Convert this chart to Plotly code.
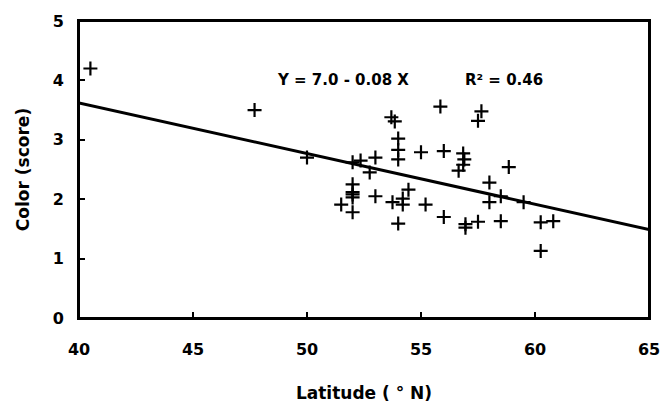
import plotly.graph_objects as go

# Data
latitude = [40.5, 47.7, 50.0, 51.5, 52.0, 52.0, 52.0, 52.0, 52.0, 52.0, 52.35, 52.75,
            53.0, 53.0, 53.7, 53.85, 53.75, 54.0, 54.0, 54.0, 54.0, 54.2, 54.2, 54.45,
            55.0, 55.2, 55.85, 56.0, 56.0, 56.65, 56.85, 56.9, 56.85, 56.95, 56.95,
            57.5, 57.65, 57.5, 58.0, 58.0, 58.5, 58.5, 58.85, 59.5, 60.25, 60.25, 60.8]
color_score = [4.2, 3.5, 2.7, 1.91, 2.62, 2.25, 2.12, 2.08, 2.03, 1.78, 2.65, 2.45,
               2.7, 2.05, 3.38, 3.31, 1.95, 3.02, 2.83, 2.67, 1.59, 2.01, 1.91, 2.16,
               2.79, 1.91, 3.56, 2.81, 1.70, 2.48, 2.77, 2.67, 2.58, 1.58, 1.52,
               3.32, 3.48, 1.62, 2.28, 1.95, 2.05, 1.63, 2.54, 1.95, 1.61, 1.13, 1.63]

fit_x = [40, 65]
fit_y = [3.62, 1.49]

x_ticks = [40, 45, 50, 55, 60, 65]
y_ticks = [0, 1, 2, 3, 4, 5]

FONT = "DejaVu Sans"

fig = go.Figure()
fig.add_trace(go.Scatter(
    x=fit_x, y=fit_y, mode="lines",
    line=dict(color="black", width=3), showlegend=False, hoverinfo="skip"))
fig.add_trace(go.Scatter(
    x=latitude, y=color_score, mode="markers",
    marker=dict(symbol="cross-thin", size=10, color="black",
                line=dict(color="black", width=2.2)),
    showlegend=False))

fig.add_annotation(x=0.464, y=0.802, xref="paper", yref="paper",
                   xanchor="center", yanchor="middle", showarrow=False,
                   text="<b>Y = 7.0 - 0.08 X</b>",
                   font=dict(family=FONT, size=15, color="black"))
fig.add_annotation(x=0.745, y=0.802, xref="paper", yref="paper",
                   xanchor="center", yanchor="middle", showarrow=False,
                   text="<b>R² = 0.46</b>",
                   font=dict(family=FONT, size=15, color="black"))

# frame around the plot area
fig.add_shape(type="rect", xref="paper", yref="paper", x0=0, y0=0, x1=1, y1=1,
              line=dict(color="black", width=2), layer="above")

axis_common = dict(
    showgrid=False, zeroline=False, showline=True, linecolor="black",
    linewidth=2, mirror=True, ticks="inside", ticklen=6, tickwidth=1.5,
    tickcolor="black",
    tickfont=dict(family=FONT, size=16, color="black"),
)

fig.update_layout(
    width=672, height=412,
    margin=dict(l=79, r=13, t=20, b=88),
    paper_bgcolor="white", plot_bgcolor="white",
    xaxis=dict(range=[40, 65], tickvals=x_ticks,
               ticktext=[f"<b>{v}</b>" for v in x_ticks], ticklabelstandoff=16,
               title=dict(text="<b>Latitude ( ° N)</b>", standoff=29,
                          font=dict(family=FONT, size=17, color="black")),
               **axis_common),
    yaxis=dict(range=[0, 5], tickvals=y_ticks,
               ticktext=[f"<b>{v}</b>" for v in y_ticks], ticklabelstandoff=10,
               title=dict(text="<b>Color (score)</b>", standoff=19,
                          font=dict(family=FONT, size=17, color="black")),
               **axis_common),
)

fig.write_html("out.html", config={"displayModeBar": False},
               post_script="document.body.style.margin='0';document.body.style.overflow='hidden';")
